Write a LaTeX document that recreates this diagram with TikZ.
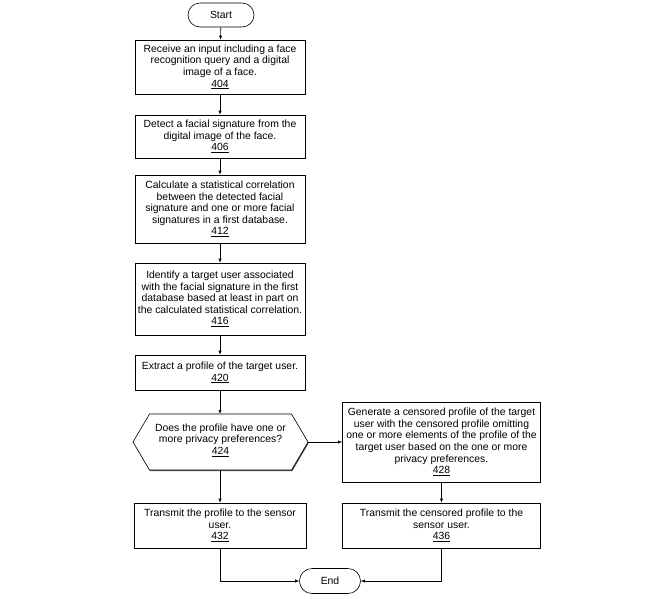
\documentclass[tikz,border=0pt]{standalone}
\usepackage{fontspec}
\setmainfont{Liberation Sans}
\usetikzlibrary{shapes.misc,shadows,arrows.meta}
\begin{document}
\begin{tikzpicture}[x=1pt,y=-1pt,
  every node/.style={font=\fontsize{10.4}{11.6}\selectfont, inner sep=0.5pt, align=center},
  stepbox/.style={draw, line width=0.6pt, fill=white, drop shadow={shadow xshift=0.7pt, shadow yshift=-1.2pt, fill=black!70, opacity=1}},
  term/.style={draw, line width=0.6pt, fill=white, rounded rectangle},
  conn/.style={line width=0.6pt, -{Latex[length=4pt,width=3.2pt]}},
  plain/.style={line width=0.6pt}
]
\useasboundingbox (0,0) rectangle (660,598);

\node[term, minimum width=67pt, minimum height=24pt] (start) at (221,15) {Start};

\node[stepbox, minimum width=170pt, minimum height=54pt] (n404) at (220,67)
  {Receive an input including a face\\recognition query and a digital\\image of a face.\\\underline{404}};
\node[stepbox, minimum width=170pt, minimum height=43pt] (n406) at (220,136.5)
  {Detect a facial signature from the\\digital image of the face.\\\underline{406}};
\node[stepbox, minimum width=170pt, minimum height=68pt] (n412) at (220,209)
  {Calculate a statistical correlation\\between the detected facial\\signature and one or more facial\\signatures in a first database.\\\underline{412}};
\node[stepbox, minimum width=170pt, minimum height=72pt] (n416) at (220,299)
  {Identify a target user associated\\with the facial signature in the first\\database based at least in part on\\the calculated statistical correlation.\\\underline{416}};
\node[stepbox, minimum width=170pt, minimum height=35pt] (n420) at (220,372.5)
  {Extract a profile of the target user.\\\underline{420}};

% decision hexagon
\coordinate (dT) at (220.5,414);
\coordinate (dB) at (220.5,470);
\coordinate (dL) at (133,442);
\coordinate (dR) at (308,442);
\draw[plain, fill=white, drop shadow={shadow xshift=0.7pt, shadow yshift=-1.2pt, fill=black!70, opacity=1}]
  (dL) -- (149.5,414) -- (291.5,414) -- (dR) -- (291.5,470) -- (149.5,470) -- cycle;
\node (n424) at (220.5,440) {Does the profile have one or\\more privacy preferences?\\\underline{424}};

\node[stepbox, minimum width=198pt, minimum height=80pt] (n428) at (441.5,442)
  {Generate a censored profile of the target\\user with the censored profile omitting\\one or more elements of the profile of the\\target user based on the one or more\\privacy preferences.\\\underline{428}};

\node[stepbox, minimum width=172pt, minimum height=45pt] (n432) at (220,525.5)
  {Transmit the profile to the sensor\\user.\\\underline{432}};
\node[stepbox, minimum width=198pt, minimum height=45pt] (n436) at (441.5,525.5)
  {Transmit the censored profile to the\\sensor user.\\\underline{436}};

\node[term, minimum width=62pt, minimum height=25pt] (end) at (330,581) {End};

\draw[conn] (start) -- (n404);
\draw[conn] (n404) -- (n406);
\draw[conn] (n406) -- (n412);
\draw[conn] (n412) -- (n416);
\draw[conn] (n416) -- (n420);
\draw[conn] (n420.south) -- (n420.south |- dT);
\draw[conn] (dR) -- (dR -| n428.west);
\draw[conn] (dB -| n432.north) -- (n432.north);
\draw[conn] (n428) -- (n436);
\draw[conn] (n432.south) |- (end.west);
\draw[conn] (n436.south) |- (end.east);
\end{tikzpicture}
\end{document}
